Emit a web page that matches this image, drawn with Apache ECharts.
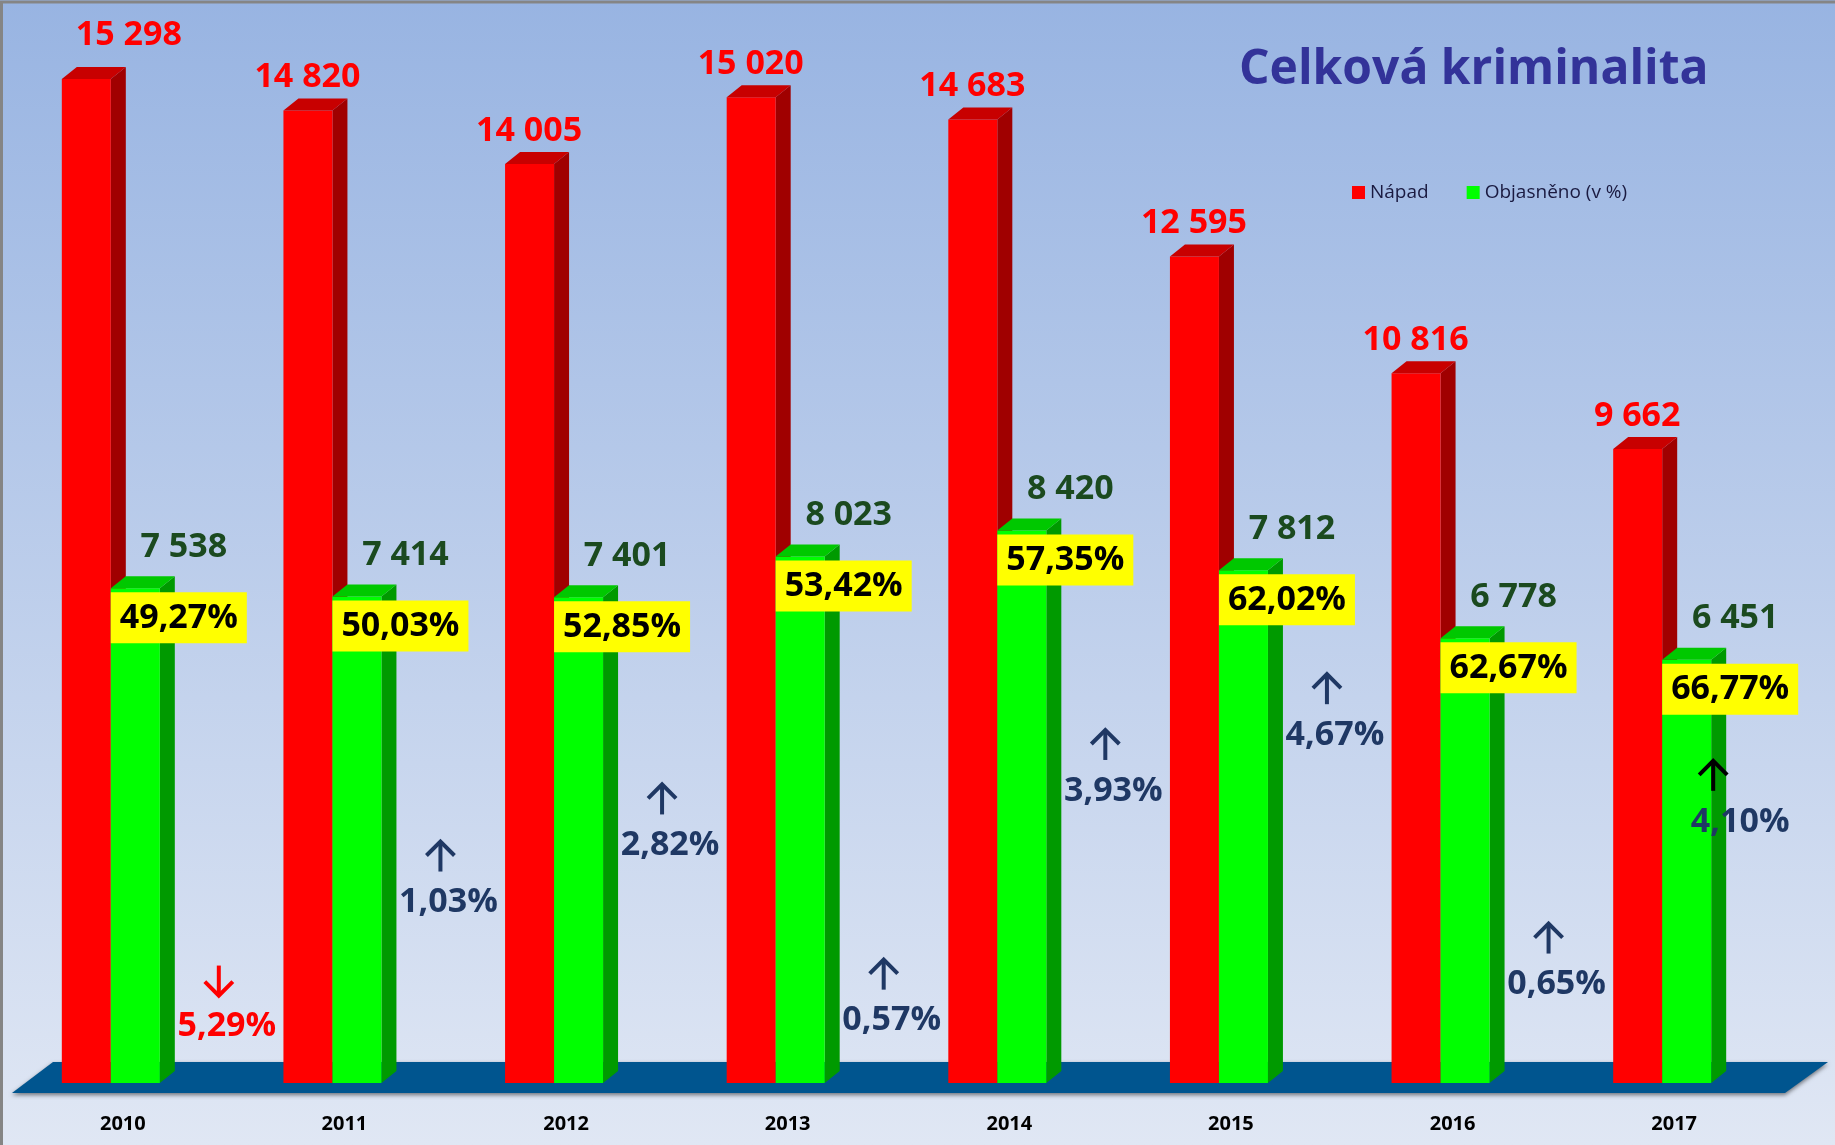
<!doctype html>
<html>
<head>
<meta charset="UTF-8">
<title>Celková kriminalita</title>
<style>
html,body{margin:0;padding:0;background:#fff;}
#main{width:1835px;height:1145px;}
</style>
</head>
<body>
<div id="main"></div>
<script src="https://cdn.jsdelivr.net/npm/echarts/dist/echarts.min.js"></script>
<script>
var years = ['2010', '2011', '2012', '2013', '2014', '2015', '2016', '2017'];
var napad = [15298, 14820, 14005, 15020, 14683, 12595, 10816, 9662];
var objasneno = [7538, 7414, 7401, 8023, 8420, 7812, 6778, 6451];
var objasnenoPct = [49.27, 50.03, 52.85, 53.42, 57.35, 62.02, 62.67, 66.77];
var zmena = [-5.29, 1.03, 2.82, 0.57, 3.93, 4.67, 0.65, 4.10];

var W = 1835, H = 1145;
var GRID = {left: 12, right: 50, top: 33, bottom: 62};
var FONT = '"Open Sans", sans-serif';
var DX = 15, DY = 12;
// vyska popisku zmeny (v jednotkach osy y), rucne umistene jako v originale
var zmenaVyska = [860, 2750, 3620, 950, 4450, 5300, 1500, 3980];

function cislo(v) {
	return String(v).replace(/\B(?=(\d{3})+(?!\d))/g, ' ');
}
function procenta(v) {
	return Math.abs(v).toFixed(2).replace('.', ',') + '%';
}
function text(t, x, y, color, size) {
	return {type: 'text', style: {text: t, x: x, y: y, align: 'center', verticalAlign: 'middle',
		fill: color, fontSize: size || 34, fontWeight: 'bold', fontFamily: FONT}};
}
// 3D sloupec: predni stena, bocni stena, horni plocha
function sloupec(x0, x1, yt, yb, front, side, top) {
	return [
		{type: 'polygon', shape: {points: [[x1, yt], [x1 + DX, yt - DY], [x1 + DX, yb - DY], [x1, yb]]}, style: {fill: side}},
		{type: 'rect', shape: {x: x0, y: yt, width: x1 - x0, height: yb - yt}, style: {fill: front}},
		{type: 'polygon', shape: {points: [[x0, yt], [x0 + DX, yt - DY], [x1 + DX, yt - DY], [x1, yt]]}, style: {fill: top}}
	];
}
// sipka nahoru (dir=-1) nebo dolu (dir=1)
function sipka(x, y, dir, color) {
	var st = {stroke: color, lineWidth: 4, fill: null};
	return [
		{type: 'line', shape: {x1: x, y1: y - 15 * dir, x2: x, y2: y + 14 * dir}, style: st},
		{type: 'polyline', shape: {points: [[x - 14, y + 1 * dir], [x, y + 15 * dir], [x + 14, y + 1 * dir]]}, style: st}
	];
}

function renderNapad(params, api) {
	var i = api.value(0), v = api.value(1);
	var t = api.coord([i, v]), b = api.coord([i, 0]);
	var cx = t[0];
	var kids = sloupec(cx - 61, cx - 12, t[1], b[1], '#ff0000', '#a00000', '#c80000');
	var lx = cx - 37, ly = t[1] - 33;
	if (i === 0) { lx = cx + 6; ly = t[1] - 44; }
	kids.push(text(cislo(v), lx, ly, '#ff0000'));
	return {type: 'group', children: kids};
}

function renderObjasneno(params, api) {
	var i = api.value(0), v = api.value(1);
	var t = api.coord([i, v]), b = api.coord([i, 0]);
	var cx = t[0];
	var kids = sloupec(cx - 12, cx + 37, t[1], b[1], '#00ff00', '#009a00', '#00c800');
	kids.push(text(cislo(v), cx + 61, t[1] - 41, '#1b4a1f'));
	kids.push({type: 'rect', shape: {x: cx - 12, y: t[1] + 4, width: 136, height: 51}, style: {fill: '#ffff00'}});
	kids.push(text(procenta(objasnenoPct[i]), cx + 56, t[1] + 30, '#000000'));
	return {type: 'group', children: kids};
}

function renderZmena(params, api) {
	var i = api.value(0), v = api.value(1);
	var cx = api.coord([i, 0])[0];
	var y = api.coord([i, zmenaVyska[i]])[1];
	var tx = cx + 104, ax = cx + 96;
	if (i === years.length - 1) { tx = cx + 66; ax = cx + 39; }
	var barva = v < 0 ? '#ff0000' : '#1f3864';
	var barvaSipky = v < 0 ? '#ff0000' : (i === years.length - 1 ? '#000000' : '#1f3864');
	var kids = sipka(ax, y - 46, v < 0 ? 1 : -1, barvaSipky);
	kids.push(text(procenta(v), tx, y, barva));
	return {type: 'group', children: kids};
}

var L = GRID.left, R = W - GRID.right, base = H - GRID.bottom;

var myChart = echarts.init(document.getElementById('main'));
var option = {
	animation: false,
	title: {
		text: 'Celková kriminalita',
		left: 1234, top: 41,
		textStyle: {fontSize: 48, fontWeight: 'bold', color: '#333399', fontFamily: FONT}
	},
	legend: {
		data: [{name: 'Nápad', icon: 'rect'}, {name: 'Objasněno (v %)', icon: 'rect'}],
		left: 1347, top: 178,
		itemWidth: 13, itemHeight: 13, itemGap: 38, itemStyle: {borderWidth: 0},
		textStyle: {fontSize: 19, color: '#1a1a40', fontFamily: FONT}
	},
	grid: {left: GRID.left, right: GRID.right, top: GRID.top, bottom: GRID.bottom},
	xAxis: {
		type: 'category',
		data: years,
		axisLine: {show: false},
		axisTick: {show: false},
		axisLabel: {margin: 31, fontSize: 20, fontWeight: 'bold', color: '#000', fontFamily: FONT}
	},
	yAxis: {type: 'value', min: 0, max: 16000, show: false},
	graphic: [
		{type: 'rect', shape: {x: 0, y: 0, width: W, height: H},
			style: {fill: new echarts.graphic.LinearGradient(0, 0, 0, 1, [
				{offset: 0, color: '#98b4e2'}, {offset: 1, color: '#e0e7f4'}])}},
		{type: 'polygon',
			shape: {points: [[L, base + 10], [L + 41, base - 21], [R + 43, base - 21], [R, base + 10]]},
			style: {fill: '#00558f', shadowBlur: 4, shadowOffsetY: 2, shadowColor: 'rgba(0,0,0,0.5)'}},
		{type: 'polyline', shape: {points: [[1.5, H], [1.5, 2], [W, 2]]},
			style: {stroke: '#858585', lineWidth: 3, fill: null}}
	],
	series: [
		{
			name: 'Nápad', type: 'custom', clip: false,
			itemStyle: {color: '#ff0000'},
			renderItem: renderNapad,
			encode: {x: 0, y: 1},
			data: napad.map(function (v, i) { return [i, v]; })
		},
		{
			name: 'Objasněno (v %)', type: 'custom', clip: false,
			itemStyle: {color: '#00ff00'},
			renderItem: renderObjasneno,
			encode: {x: 0, y: 1},
			data: objasneno.map(function (v, i) { return [i, v]; })
		},
		{
			name: 'změna', type: 'custom', clip: false,
			renderItem: renderZmena,
			encode: {x: 0, y: 1},
			data: zmena.map(function (v, i) { return [i, v]; })
		}
	]
};
myChart.setOption(option);
</script>
</body>
</html>
